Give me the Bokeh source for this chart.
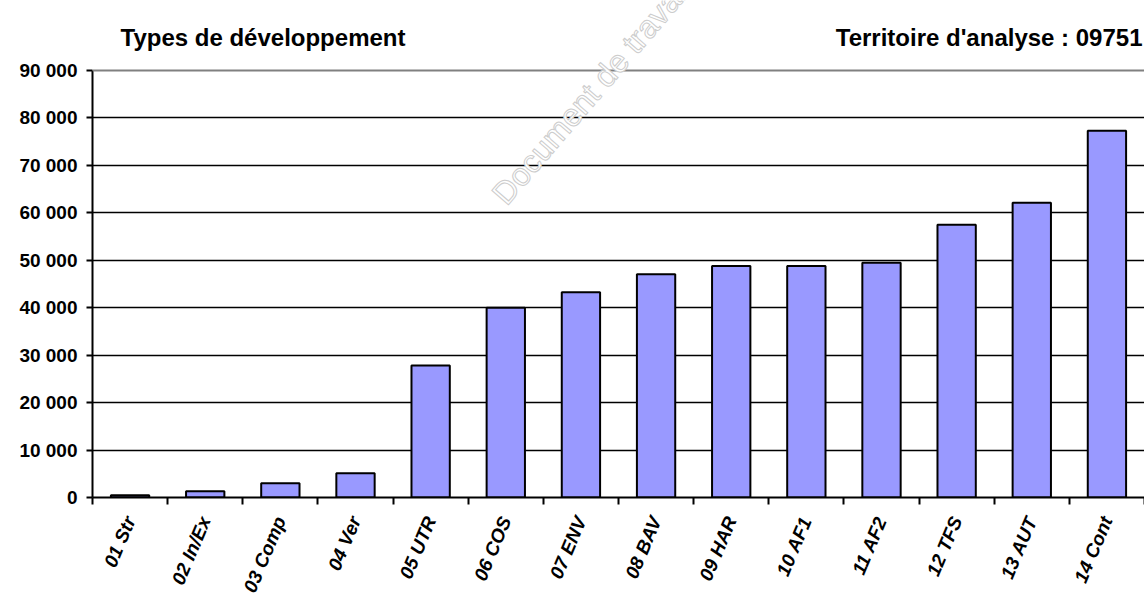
from bokeh.plotting import figure
from bokeh.models import FixedTicker, Range1d, Label, ColumnDataSource, Span
from bokeh.embed import file_html
from bokeh.resources import INLINE

# ---- data ----
categories = ["01 Str", "02 In/Ex", "03 Comp", "04 Ver", "05 UTR", "06 COS", "07 ENV",
              "08 BAV", "09 HAR", "10 AF1", "11 AF2", "12 TFS", "13 AUT", "14 Cont"]
values = [500, 1300, 3000, 5100, 27800, 40000, 43250, 47050, 48800, 48800, 49500,
          57500, 62150, 77300]
y_ticks = [0, 10000, 20000, 30000, 40000, 50000, 60000, 70000, 80000, 90000]
y_tick_labels = ["0", "10 000", "20 000", "30 000", "40 000", "50 000", "60 000",
                 "70 000", "80 000", "90 000"]
title_left = "Types de développement"
title_right = "Territoire d'analyse : 09751"
watermark = "Document de travail"

FONT = "Liberation Sans"

n = len(categories)
positions = list(range(1, n + 1))
boundaries = [k + 0.5 for k in range(0, n + 1)]

# frame covers the whole top area so the titles can sit inside it
FRAME_H = 497
AXIS_TOP_PX = 70
y_max = y_ticks[-1] * FRAME_H / (FRAME_H - AXIS_TOP_PX)

src = ColumnDataSource(dict(x=positions, top=values, cat=categories))

p = figure(width=1144, height=604, output_backend="svg", toolbar_location=None,
           x_range=Range1d(0.5, n + 0.5), y_range=Range1d(0, y_max),
           min_border_left=92, min_border_right=0, min_border_top=0,
           min_border_bottom=604 - FRAME_H)
p.background_fill_color = "white"
p.border_fill_color = "white"
p.outline_line_color = None

p.xgrid.grid_line_color = None
p.ygrid.ticker = FixedTicker(ticks=y_ticks[1:-1])
p.ygrid.grid_line_color = "black"
p.ygrid.grid_line_width = 1.5
p.add_layout(Span(location=y_ticks[-1], dimension="width", line_color="#808080",
                  line_width=2))

p.vbar(x="x", top="top", width=0.51, source=src, fill_color="#9999FF",
       line_color="black", line_width=2)

# x axis
xa = p.xaxis[0]
xa.ticker = FixedTicker(ticks=positions, minor_ticks=boundaries)
xa.major_label_overrides = {pos: c for pos, c in zip(positions, categories)}
xa.major_tick_out = 0
xa.major_tick_in = 0
xa.minor_tick_out = 7
xa.minor_tick_in = 0
xa.minor_tick_line_color = "black"
xa.minor_tick_line_width = 2
xa.axis_line_color = "black"
xa.axis_line_width = 2
xa.major_label_orientation = 1.17
xa.major_label_text_font = FONT
xa.major_label_text_font_style = "bold italic"
xa.major_label_text_font_size = "19px"
xa.major_label_text_color = "black"
xa.major_label_standoff = 13

# y axis
ya = p.yaxis[0]
ya.ticker = FixedTicker(ticks=y_ticks)
ya.bounds = (y_ticks[0], y_ticks[-1])
ya.major_label_overrides = {t: l for t, l in zip(y_ticks, y_tick_labels)}
ya.major_tick_out = 6
ya.major_tick_in = 0
ya.major_tick_line_width = 2
ya.minor_tick_out = 0
ya.minor_tick_in = 0
ya.axis_line_color = "black"
ya.axis_line_width = 2
ya.major_label_text_font = FONT
ya.major_label_text_font_style = "bold"
ya.major_label_text_font_size = "19px"
ya.major_label_text_color = "black"
ya.major_label_standoff = 9

# watermark (white letters with a grey outline, drawn over the grid)
p.add_layout(Label(x=406, y=FRAME_H - 199, x_units="screen", y_units="screen",
                   text=watermark, angle=0.86, text_font=FONT, text_font_size="32px",
                   text_color="white", text_outline_color="#cccccc",
                   text_align="left", text_baseline="alphabetic"), "center")

# titles
p.add_layout(Label(x=28, y=FRAME_H - 37, x_units="screen", y_units="screen",
                   text=title_left, text_font=FONT, text_font_style="bold",
                   text_font_size="24px", text_color="black", text_align="left",
                   text_baseline="alphabetic"))
p.add_layout(Label(x=1050, y=FRAME_H - 37, x_units="screen", y_units="screen",
                   text=title_right, text_font=FONT, text_font_style="bold",
                   text_font_size="24px", text_color="black", text_align="right",
                   text_baseline="alphabetic"))

open("out.html", "w").write(file_html(p, INLINE))
